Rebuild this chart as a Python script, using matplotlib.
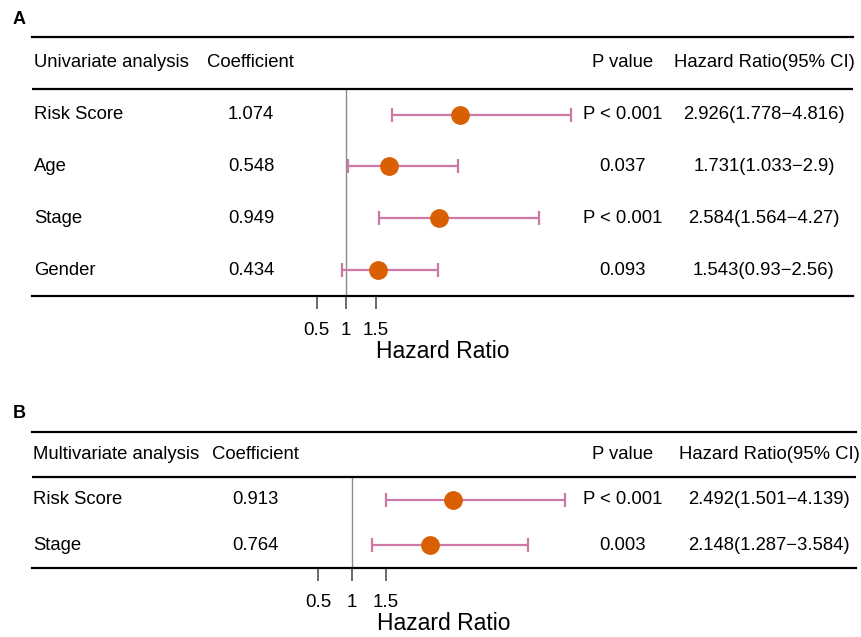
import matplotlib
matplotlib.use('Agg')
from matplotlib import pyplot as plt
import matplotlib.transforms as mtransforms

plt.rcParams['font.family'] = ['Liberation Sans', 'DejaVu Sans']

# Panel A: univariate
uni_vars = ['Risk Score', 'Age', 'Stage', 'Gender']
uni_coef = ['1.074', '0.548', '0.949', '0.434']
uni_p = ['P < 0.001', '0.037', 'P < 0.001', '0.093']
uni_hr = [2.926, 1.731, 2.584, 1.543]
uni_lo = [1.778, 1.033, 1.564, 0.93]
uni_hi = [4.816, 2.9, 4.27, 2.56]
uni_hr_txt = ['2.926(1.778\u22124.816)', '1.731(1.033\u22122.9)',
              '2.584(1.564\u22124.27)', '1.543(0.93\u22122.56)']

# Panel B: multivariate
multi_vars = ['Risk Score', 'Stage']
multi_coef = ['0.913', '0.764']
multi_p = ['P < 0.001', '0.003']
multi_hr = [2.492, 2.148]
multi_lo = [1.501, 1.287]
multi_hi = [4.139, 3.584]
multi_hr_txt = ['2.492(1.501\u22124.139)', '2.148(1.287\u22123.584)']

ticks = [0.5, 1, 1.5]

W, H = 861, 637
fig = plt.figure(figsize=(W / 100, H / 100), dpi=100)

PT_COLOR = '#D95F02'
CI_COLOR = '#CC79A7'


def forest(box, xlim, title, names, coef, pvals, hr, lo, hi, hr_txt, cols, panel):
    x0, y0, x1, y1 = box
    ax = fig.add_axes([x0 / W, 1 - y1 / H, (x1 - x0) / W, (y1 - y0) / H])
    n = len(names)
    ax.set_xlim(*xlim)
    ax.set_ylim(n + 0.5, -0.5)

    for s in ['left', 'right']:
        ax.spines[s].set_visible(False)
    for s in ['top', 'bottom']:
        ax.spines[s].set_linewidth(1.6)
        ax.spines[s].set_color('black')
    ax.axhline(0.5, color='black', lw=1.6)
    ax.plot([1, 1], [0.5, n + 0.5], color='#8c8c8c', lw=1.0, zorder=1)

    rows = list(range(1, n + 1))
    errs = [[h - l for h, l in zip(hr, lo)], [u - h for h, u in zip(hr, hi)]]
    ax.errorbar(hr, rows, xerr=errs, fmt='none', ecolor=CI_COLOR,
                elinewidth=1.6, capsize=5, capthick=1.6, zorder=2)
    ax.plot(hr, rows, 'o', color=PT_COLOR, markersize=12.5, zorder=3)

    ax.set_yticks([])
    ax.set_xticks(ticks)
    ax.set_xticklabels(['0.5', '1', '1.5'], fontsize=13.5)
    ax.tick_params(axis='x', length=9.5, width=1.1, color='#444444', pad=9)
    ax.set_xlabel('Hazard Ratio', fontsize=16.5, labelpad=1)

    tr = mtransforms.blended_transform_factory(fig.transFigure, ax.transData)
    name_x, coefh_x, coef_x, p_x, hr_x = cols
    fs = 13.3
    ax.text(name_x / W, 0, title, transform=tr, ha='left', va='center', fontsize=fs)
    ax.text(coefh_x / W, 0, 'Coefficient', transform=tr, ha='left', va='center', fontsize=fs)
    ax.text(p_x / W, 0, 'P value', transform=tr, ha='center', va='center', fontsize=fs)
    ax.text(hr_x / W, 0, 'Hazard Ratio(95% CI)', transform=tr, ha='center', va='center', fontsize=fs)
    for i, r in enumerate(rows):
        ax.text(name_x / W, r, names[i], transform=tr, ha='left', va='center', fontsize=fs)
        ax.text(coef_x / W, r, coef[i], transform=tr, ha='center', va='center', fontsize=fs)
        ax.text(p_x / W, r, pvals[i], transform=tr, ha='center', va='center', fontsize=fs)
        ax.text(hr_x / W, r, hr_txt[i], transform=tr, ha='center', va='center', fontsize=fs)

    fig.text(13 / W, 1 - panel[1] / H, panel[0], fontsize=13, fontweight='bold',
             ha='left', va='center')
    return ax


# pixel mapping: panel A 1 -> 346px, 59 px per unit; panel B 1 -> 352px, 68 px per unit
forest((32, 37, 853, 296), (1 - 314 / 59, 1 + 507 / 59), 'Univariate analysis',
       uni_vars, uni_coef, uni_p, uni_hr, uni_lo, uni_hi, uni_hr_txt,
       (34, 207, 251, 623, 764), ('A', 20))
forest((32, 432, 856, 568), (1 - 320 / 68, 1 + 504 / 68), 'Multivariate analysis',
       multi_vars, multi_coef, multi_p, multi_hr, multi_lo, multi_hi, multi_hr_txt,
       (33, 212, 255, 623, 769), ('B', 413))

fig.savefig('out.png', dpi=100)
